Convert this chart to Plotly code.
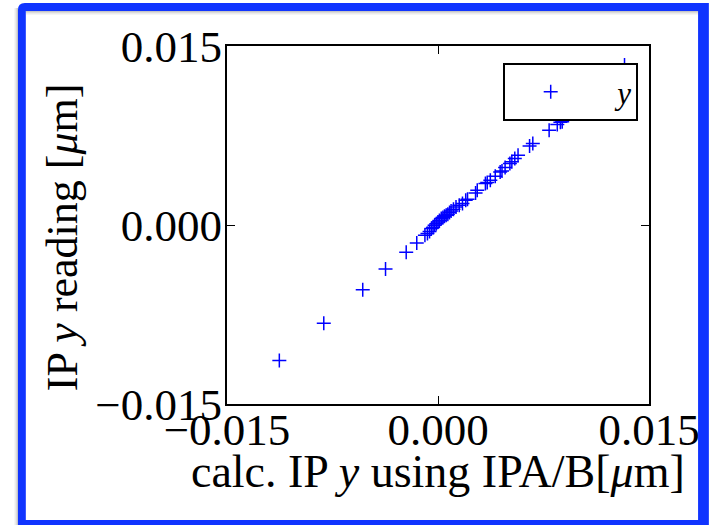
import plotly.graph_objects as go

# ---- data ----
calc_y = [-0.01128, -0.00812, -0.00535, -0.00373, -0.00226, -0.00151,
          -0.00093, -0.00075, -0.00060, -0.00047, -0.00035, -0.00024, -0.00012,
          0.00000, 0.00010, 0.00023, 0.00035, 0.00046, 0.00058, 0.00070,
          0.00082, 0.00093, 0.00110, 0.00128, 0.00151, 0.00174, 0.00197,
          0.00210, 0.00267, 0.00279, 0.00337, 0.00350, 0.00372, 0.00407,
          0.00442, 0.00455, 0.00477, 0.00511, 0.00525, 0.00546, 0.00569,
          0.00651, 0.00674, 0.00790, 0.00848, 0.00870, 0.00883, 0.01326]
read_y = [-0.01136, -0.00823, -0.00542, -0.00369, -0.00229, -0.00151,
          -0.00085, -0.00072, -0.00055, -0.00030, -0.00020, -0.00003, 0.00010,
          0.00025, 0.00038, 0.00054, 0.00063, 0.00073, 0.00082, 0.00090,
          0.00105, 0.00118, 0.00133, 0.00151, 0.00165, 0.00180, 0.00207,
          0.00215, 0.00269, 0.00291, 0.00348, 0.00356, 0.00375, 0.00409,
          0.00445, 0.00452, 0.00482, 0.00515, 0.00530, 0.00557, 0.00585,
          0.00661, 0.00683, 0.00795, 0.00843, 0.00860, 0.00865, 0.01341]
series_name = "<i>y</i>"
tick_vals = [-0.015, 0.0, 0.015]
tick_text = ["\u22120.015", "0.000", "0.015"]
x_title = "calc. IP <i>y</i> using IPA/B[<i>\u03bc</i>m]"
y_title = "IP <i>y</i> reading [<i>\u03bc</i>m]"

# ---- layout geometry ----
W, H = 712, 525
L, R, T, B = 227, 55, 46, 121
PW, PH = W - L - R, H - T - B


def px(x):
    return (x - L) / PW


def py(y):
    return (H - B - y) / PH


FONT = "Liberation Serif, Times New Roman, serif"
BLUE_FRAME = "#1034ff"
NB = "\u00a0"

fig = go.Figure()
fig.add_trace(go.Scatter(
    x=calc_y, y=read_y, mode="markers", name=NB * 6 + series_name,
    marker=dict(symbol="cross-thin", size=10, color="blue",
                line=dict(color="blue", width=1.5)),
))

axis_common = dict(
    range=[-0.015, 0.015], tickvals=tick_vals, ticktext=tick_text,
    showgrid=False, zeroline=False, showline=True, linecolor="black",
    linewidth=2, mirror="ticks", ticks="inside", ticklen=8, tickwidth=1,
    tickcolor="black", tickfont=dict(family=FONT, size=45, color="black"),
)
fig.update_xaxes(**axis_common, ticklabelstandoff=-15)
fig.update_yaxes(**axis_common, ticklabelstandoff=-6)

# frame path (outer clockwise, inner counter-clockwise)
def P(x, y):
    return f"{px(x):.5f},{py(y):.5f}"

frame_path = (f"M{P(14, 10)} Q{P(14, 3)} {P(21, 3)} L{P(718, 3)} L{P(718, 532)} "
              f"L{P(14, 532)} Z M{P(22, 11)} L{P(22, 520)} L{P(707, 520)} "
              f"L{P(707, 11)} Z")
shapes = []
# soft shadows
for i, op in enumerate([0.22, 0.14, 0.08, 0.04]):
    shapes.append(dict(type="line", xref="paper", yref="paper",
                       x0=px(13.5 - i), x1=px(13.5 - i), y0=py(8), y1=py(530),
                       line=dict(color=f"rgba(0,0,0,{op})", width=1)))
    shapes.append(dict(type="line", xref="paper", yref="paper",
                       x0=px(22), x1=px(712), y0=py(11.5 + i), y1=py(11.5 + i),
                       line=dict(color=f"rgba(0,0,0,{op})", width=1)))
shapes.append(dict(type="path", xref="paper", yref="paper", path=frame_path,
                   fillcolor=BLUE_FRAME, line=dict(width=0)))

annotations = [
    dict(text=x_title, xref="paper", yref="paper", x=px(441.5), y=py(472),
         xanchor="center", yanchor="middle", showarrow=False,
         font=dict(family=FONT, size=46, color="black")),
    dict(text=y_title, xref="paper", yref="paper", x=px(59), y=py(237),
         xanchor="center", yanchor="middle", showarrow=False, textangle=-90,
         font=dict(family=FONT, size=44, color="black")),
]

fig.update_layout(
    width=W, height=H, margin=dict(l=L, r=R, t=T, b=B, pad=0),
    paper_bgcolor="white", plot_bgcolor="white",
    showlegend=True,
    legend=dict(x=px(646), y=py(63), xanchor="right", yanchor="top",
                bgcolor="white", bordercolor="black", borderwidth=2,
                font=dict(family=FONT, size=31, color="black"),
                title=dict(text=NB * 2, side="left",
                           font=dict(family=FONT, size=31))),
    shapes=shapes, annotations=annotations,
)

fig.write_html("out.html")
